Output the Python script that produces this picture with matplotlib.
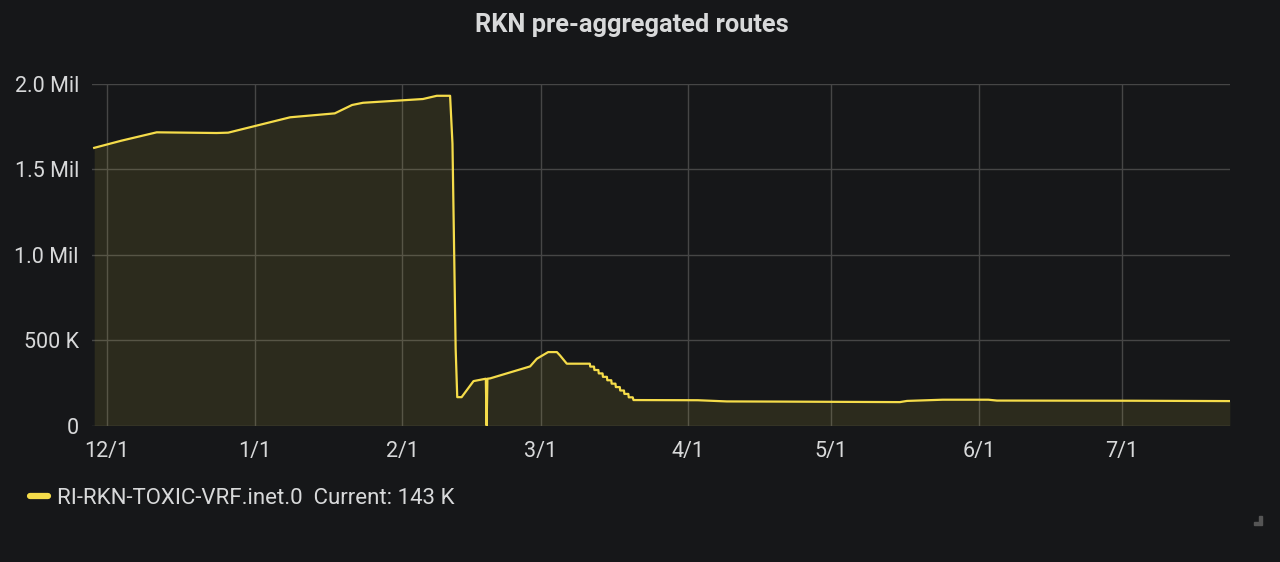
import numpy as np
import pandas as pd
import matplotlib
matplotlib.use('Agg')
import matplotlib.pyplot as plt
import matplotlib.dates as mdates
import matplotlib.ticker as mticker
from matplotlib.patches import Polygon

plt.rcParams['font.family'] = ['Roboto', 'DejaVu Sans']

# series (value in millions of routes)
times = [
    "2019-11-28 07:00", "2019-12-04 00:00", "2019-12-11 10:00", "2019-12-24 00:00",
    "2019-12-26 10:00", "2020-01-08 10:00", "2020-01-17 19:00", "2020-01-21 10:00",
    "2020-01-23 17:00", "2020-02-05 07:00", "2020-02-08 05:00", "2020-02-11 00:00",
    "2020-02-11 12:00", "2020-02-12 04:00", "2020-02-12 12:00", "2020-02-13 10:00",
    "2020-02-15 22:00", "2020-02-18 12:00", "2020-02-18 16:00", "2020-02-18 20:00",
    "2020-02-19 10:00", "2020-02-27 19:00", "2020-02-29 05:00", "2020-03-02 14:00",
    "2020-03-04 10:00", "2020-03-05 02:00", "2020-03-06 12:00", "2020-03-10 12:00",
    "2020-03-11 08:00", "2020-03-11 10:00", "2020-03-12 05:00", "2020-03-12 07:00",
    "2020-03-13 03:00", "2020-03-13 05:00", "2020-03-14 00:00", "2020-03-14 02:00",
    "2020-03-14 22:00", "2020-03-15 00:00", "2020-03-15 20:00", "2020-03-15 22:00",
    "2020-03-16 17:00", "2020-03-16 19:00", "2020-03-17 15:00", "2020-03-17 17:00",
    "2020-03-18 12:00", "2020-03-18 14:00", "2020-03-19 10:00", "2020-03-19 12:00",
    "2020-03-20 08:00", "2020-03-20 12:00",
    "2020-04-03 00:00", "2020-04-09 02:00", "2020-04-20 00:00", "2020-05-15 10:00",
    "2020-05-16 22:00", "2020-05-24 10:00", "2020-06-03 00:00", "2020-06-04 19:00",
    "2020-07-03 07:00", "2020-07-23 16:00",
]
routes_mil = [
    1.626, 1.668, 1.717, 1.713,
    1.715, 1.805, 1.828, 1.877,
    1.890, 1.912, 1.931, 1.931,
    1.650, 0.450, 0.166, 0.166,
    0.260, 0.274, 0.000, 0.274,
    0.276, 0.346, 0.391, 0.430,
    0.430, 0.410, 0.362, 0.362,
    0.362, 0.345, 0.345, 0.325,
    0.325, 0.305, 0.305, 0.285,
    0.285, 0.265, 0.265, 0.245,
    0.245, 0.225, 0.225, 0.205,
    0.205, 0.185, 0.185, 0.165,
    0.165, 0.149,
    0.148, 0.141, 0.140, 0.137,
    0.144, 0.151, 0.151, 0.146,
    0.145, 0.143,
]
series_name = "RI-RKN-TOXIC-VRF.inet.0"
x_start, x_end = "2019-11-27 20:00", "2020-07-23 17:00"
tick_months = ["2019-12-01", "2020-01-01", "2020-02-01", "2020-03-01",
               "2020-04-01", "2020-05-01", "2020-06-01", "2020-07-01"]
y_ticks = [0, 500000, 1000000, 1500000, 2000000]

bg = '#161719'
text_col = '#d8d9da'
yellow = '#f5dc4a'
grid_col = '#464646'

t = pd.to_datetime(times)
v = np.array(routes_mil) * 1e6

fig = plt.figure(figsize=(12.8, 5.62), dpi=100, facecolor=bg)
ax = fig.add_axes([92 / 1280, 1 - 425.5 / 562, (1230 - 92) / 1280, (425.5 - 84) / 562])
ax.set_facecolor(bg)

ax.fill_between(t, v, 0, color=yellow, alpha=0.1, linewidth=0)
line, = ax.plot(t, v, color=yellow, lw=1.6, solid_joinstyle='round')

ax.set_xlim(pd.Timestamp(x_start), pd.Timestamp(x_end))
ax.set_ylim(0, 2000000)
ax.set_xticks(pd.to_datetime(tick_months))
ax.xaxis.set_major_formatter(mticker.FuncFormatter(
    lambda x, pos: "{}/{}".format(mdates.num2date(x).month, mdates.num2date(x).day)))
ax.set_yticks(y_ticks)


def fmt_y(val, pos):
    if val == 0:
        return "0"
    if val >= 1e6:
        return "{:.1f} Mil".format(val / 1e6)
    return "{:.0f} K".format(val / 1e3)


ax.yaxis.set_major_formatter(mticker.FuncFormatter(fmt_y))
ax.tick_params(axis='both', length=0, colors=text_col, labelsize=15.5)
ax.tick_params(axis='y', pad=9.4)
ax.tick_params(axis='x', pad=11)
ax.grid(True, color=grid_col, lw=1)
ax.set_axisbelow(True)
for s in ax.spines.values():
    s.set_visible(False)

fig.text(0.494, 1 - 25 / 562, "RKN pre-aggregated routes", ha='center', va='center',
         color=text_col, fontsize=18.3, fontweight='bold')

current = "{:.0f} K".format(v[-1] / 1e3)
leg = ax.legend([line], [series_name + "  Current: " + current], loc='center left',
                bbox_to_anchor=(19 / 1280, 1 - 498 / 562), bbox_transform=fig.transFigure,
                frameon=False, handlelength=0.8, handletextpad=0.4, borderpad=0,
                fontsize=16, labelcolor=text_col)
for h in leg.get_lines():
    h.set_linewidth(4.5)
    h.set_solid_capstyle('round')

# resize corner glyph
corner = Polygon([[1262 / 1280, 1 - 516 / 562], [1262 / 1280, 1 - 525 / 562],
                  [1254 / 1280, 1 - 525 / 562], [1254 / 1280, 1 - 522 / 562],
                  [1259 / 1280, 1 - 522 / 562], [1259 / 1280, 1 - 516 / 562]],
                 closed=True, transform=fig.transFigure, color='#555555')
fig.patches.append(corner)

fig.savefig('out.png', dpi=100, facecolor=bg)
